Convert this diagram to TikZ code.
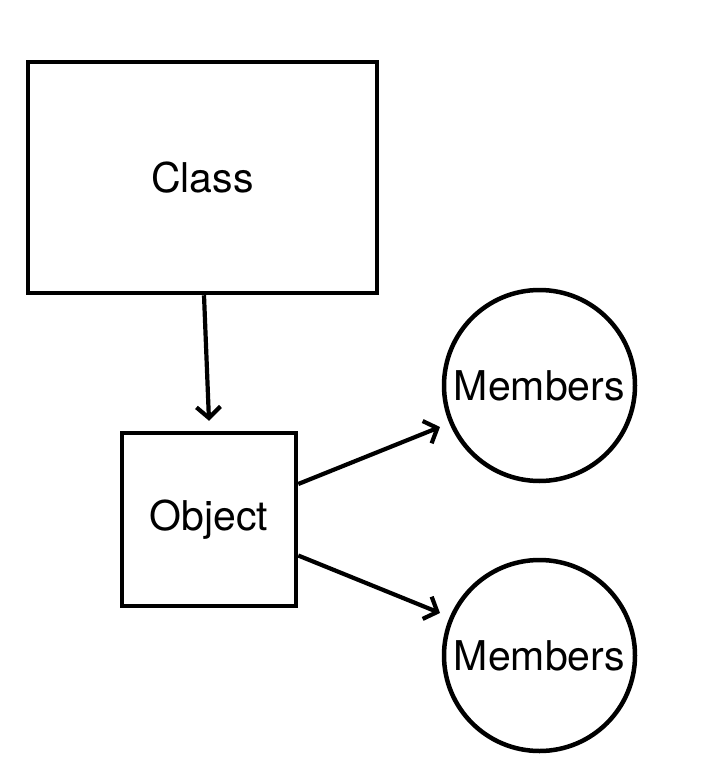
\documentclass[tikz,border=0pt]{standalone}
\usepackage{fontspec}
\setmainfont{TeX Gyre Heros}
\usetikzlibrary{arrows.meta}
\begin{document}
\begin{tikzpicture}[x=1pt,y=-1pt,
  box/.style={draw=black,line width=4.5pt,inner sep=0pt,font=\fontsize{41}{48}\selectfont},
  ball/.style={draw=black,circle,line width=4.5pt,inner sep=0pt,minimum size=191pt,font=\fontsize{41}{48}\selectfont},
  conn/.style={line width=4.2pt,-{Straight Barb[length=11pt,width=24pt,line width=4.2pt]}}]
\useasboundingbox (0,0) rectangle (713,778);
\node[box,minimum width=349pt,minimum height=231pt] (cls) at (202.5,177.5) {Class};
\node[box,minimum width=174pt,minimum height=173pt] (obj) at (209,519.5) {Object};
\node[ball] (m1) at (539.5,385.5) {Members};
\node[ball] (m2) at (539.5,655.5) {Members};
\coordinate (t1) at (440,427);
\coordinate (t2) at (440,613);
\draw[conn] ([xshift=1.5pt]cls.south) -- ([yshift=10pt]obj.north);
\draw[conn] ([yshift=35.5pt]obj.east) -- (t1);
\draw[conn] ([yshift=-36pt]obj.east) -- (t2);
\end{tikzpicture}
\end{document}
